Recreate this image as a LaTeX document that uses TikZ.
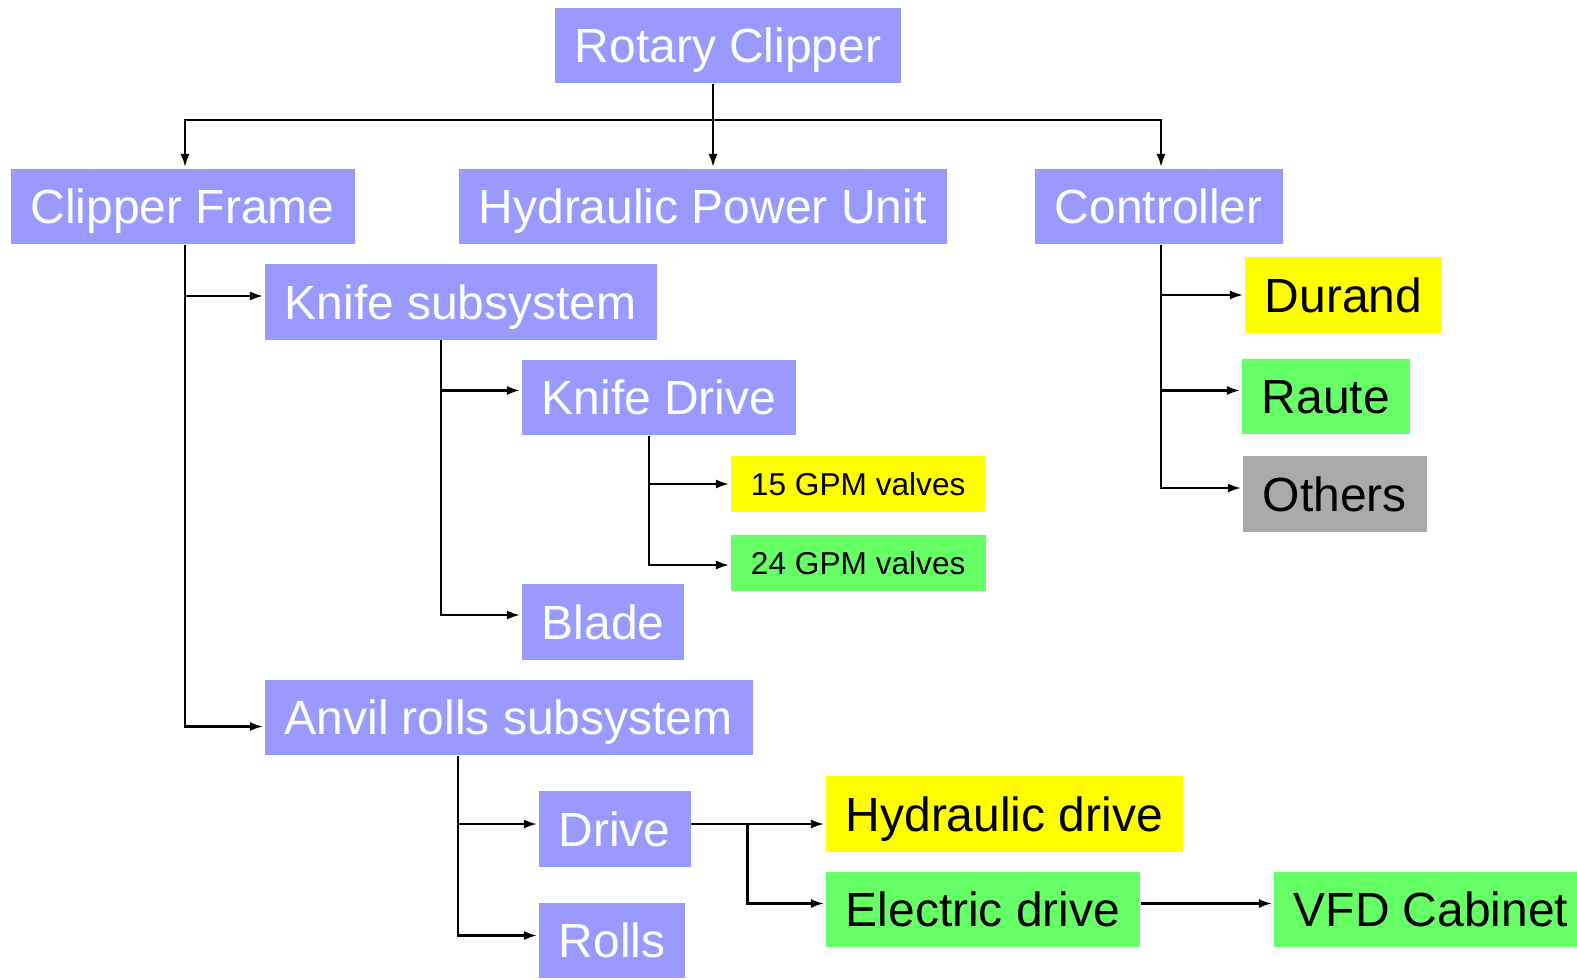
\documentclass[tikz,border=0pt]{standalone}
\usepackage{fontspec}
\setmainfont{Liberation Sans}
\usepackage{xcolor}
\usepackage{tikz}
\usetikzlibrary{positioning, calc, arrows.meta}

\definecolor{boxpurple}{HTML}{9999FF}
\definecolor{boxyellow}{HTML}{FFFF00}
\definecolor{boxgreen}{HTML}{66FF66}
\definecolor{boxgray}{HTML}{AAAAAA}

\begin{document}
\begin{tikzpicture}[
    part/.style={fill=boxpurple, text=white, anchor=west, inner xsep=0.2cm, inner ysep=0pt,
      minimum height=0.755cm, text height=0.345cm, text depth=0pt,
      font=\fontsize{13.65}{16}\selectfont},
    option/.style={part, text=black},
    small/.style={part, text=black, minimum width=2.55cm, minimum height=0.56cm,
      text height=0.225cm, font=\fontsize{9}{10}\selectfont},
    arr/.style={-{Latex[length=0.13cm,width=0.09cm]}, line width=0.6pt, shorten >=0.3pt},
    line/.style={line width=0.6pt}
  ]
  \useasboundingbox (0,0) rectangle (15.77,-9.79);

  % Top level
  \node[part] (rc) at (5.54,-0.4575) {Rotary Clipper};
  \node[part] (cf) at (0.10,-2.065) {Clipper Frame};
  \node[part] (hpu) at (4.58,-2.065) {Hydraulic Power Unit};
  \node[part] (ctl) at (10.34,-2.065) {Controller};

  % Clipper frame parts
  \node[part] (ks) at (2.64,-3.02) {Knife subsystem};
  \node[part] (kd) at (5.21,-3.975) {Knife Drive};
  \node[small, fill=boxyellow] (v15) at (7.30,-4.84) {15 GPM valves};
  \node[small, fill=boxgreen] (v24) at (7.30,-5.63) {24 GPM valves};
  \node[part] (bl) at (5.21,-6.22) {Blade};
  \node[part] (ar) at (2.64,-7.175) {Anvil rolls subsystem};
  \node[part] (dr) at (5.38,-8.29) {Drive};
  \node[part] (ro) at (5.38,-9.405) {Rolls};
  \node[option, fill=boxyellow] (hd) at (8.25,-8.14) {Hydraulic drive};
  \node[option, fill=boxgreen] (ed) at (8.25,-9.095) {Electric drive};
  \node[option, fill=boxgreen] (vfd) at (12.73,-9.095) {VFD Cabinet};

  % Controller options
  \node[option, fill=boxyellow] (du) at (12.44,-2.95) {Durand};
  \node[option, fill=boxgreen] (ra) at (12.41,-3.965) {Raute};
  \node[option, fill=boxgray] (ot) at (12.42,-4.94) {Others};

  % Connectors from the top
  \draw[line] ([xshift=1.59cm]rc.south west) -- ++(0,-0.36) coordinate (bus);
  \draw[arr] (bus) -| ([xshift=1.75cm]cf.north west);
  \draw[arr] (bus) -- (bus |- hpu.north);
  \draw[arr] (bus) -| ([xshift=1.27cm]ctl.north west);

  % Clipper frame tree
  \draw[arr] ([xshift=1.75cm]cf.south west) |- ([yshift=0.06cm]ks.west);
  \draw[arr] ([xshift=1.75cm]cf.south west) |- ([yshift=-0.09cm]ar.west);
  \draw[arr] ([xshift=1.77cm]ks.south west) |- ([yshift=0.07cm]kd.west);
  \draw[arr] ([xshift=1.77cm]ks.south west) |- ([yshift=0.07cm]bl.west);
  \draw[arr] ([xshift=1.28cm]kd.south west) |- (v15.west);
  \draw[arr] ([xshift=1.28cm]kd.south west) |- ([yshift=-0.02cm]v24.west);
  \draw[arr] ([xshift=1.94cm]ar.south west) |- ([yshift=0.05cm]dr.west);
  \draw[arr] ([xshift=1.94cm]ar.south west) |- ([yshift=0.05cm]ro.west);
  \draw[arr] ([yshift=0.05cm]dr.east) -- ([yshift=0.05cm]dr.east -| hd.west);
  \draw[arr] ($([yshift=0.05cm]dr.east)!0.42!([yshift=0.05cm]dr.east -| hd.west)$) |- ([yshift=0.06cm]ed.west);
  \draw[arr] ([yshift=0.06cm]ed.east) -- ([yshift=0.06cm]vfd.west);

  % Controller tree
  \draw[arr] ([xshift=1.27cm]ctl.south west) |- (du.west);
  \draw[arr] ([xshift=1.27cm]ctl.south west) |- ([yshift=0.06cm]ra.west);
  \draw[arr] ([xshift=1.27cm]ctl.south west) |- ([yshift=0.06cm]ot.west);
\end{tikzpicture}
\end{document}
